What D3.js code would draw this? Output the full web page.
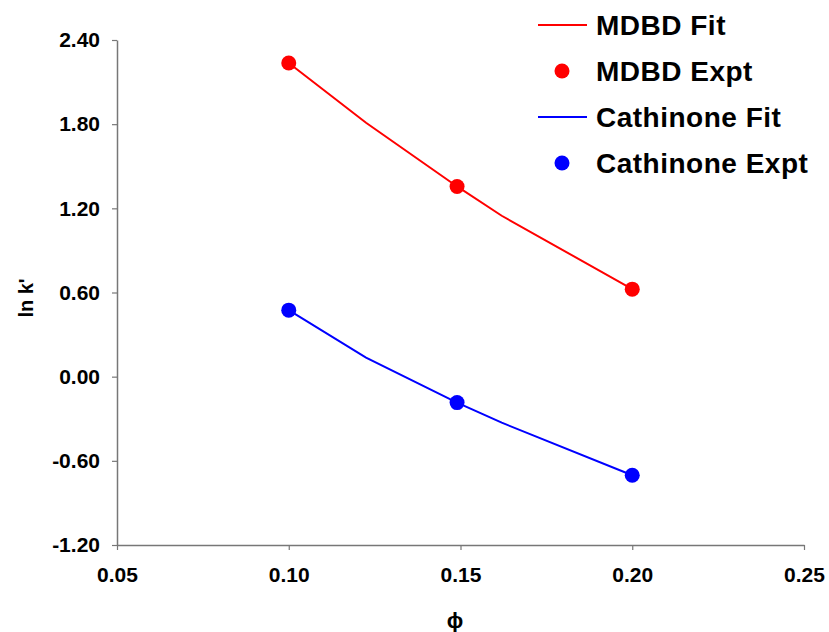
<!DOCTYPE html>
<html>
<head>
<meta charset="utf-8">
<script src="https://cdn.jsdelivr.net/npm/d3@7"></script>
<style>
  html, body { margin: 0; padding: 0; background: #fff; }
  svg { display: block; font-family: "Liberation Sans", Arial, sans-serif; }
</style>
</head>
<body>
<svg id="chart" width="829" height="632"></svg>
<script>
// ---- data ----
const phiExpt = [0.100, 0.149, 0.200];
const mdbdExpt = [2.236, 1.356, 0.624];
const cathExpt = [0.474, -0.185, -0.703];

const phiFit = [0.100, 0.1225, 0.149, 0.162, 0.200];
const mdbdFit = [2.236, 1.81, 1.356, 1.147, 0.624];
const cathFit = [0.474, 0.136, -0.185, -0.328, -0.703];

const xTicks = [0.05, 0.10, 0.15, 0.20, 0.25];
const yTicks = [-1.20, -0.60, 0.00, 0.60, 1.20, 1.80, 2.40];

const legendItems = [
  { label: "MDBD Fit", color: "#ff0000", type: "line" },
  { label: "MDBD Expt", color: "#ff0000", type: "dot" },
  { label: "Cathinone Fit", color: "#0000ff", type: "line" },
  { label: "Cathinone Expt", color: "#0000ff", type: "dot" }
];

// ---- drawing ----
const svg = d3.select("#chart");
const x = d3.scaleLinear().domain([0.05, 0.25]).range([117, 804]);
const y = d3.scaleLinear().domain([-1.2, 2.4]).range([545, 40]);
const fmt = d => d.toFixed(2);
const axisColor = "#777";

const gx = svg.append("g").attr("transform", "translate(0,545)")
  .call(d3.axisBottom(x).tickValues(xTicks).tickFormat(fmt).tickSize(5).tickPadding(17).tickSizeOuter(0));
const gy = svg.append("g").attr("transform", "translate(117,0)")
  .call(d3.axisLeft(y).tickValues(yTicks).tickFormat(fmt).tickSize(5).tickPadding(12).tickSizeOuter(0));

[gx, gy].forEach(g => {
  g.select(".domain").attr("stroke", axisColor).attr("stroke-width", 1.5);
  g.selectAll(".tick line").attr("stroke", axisColor).attr("stroke-width", 1.2);
  g.selectAll(".tick text").attr("fill", "#000").attr("font-size", 21)
    .attr("font-weight", "bold").attr("font-family", "'Liberation Sans', Arial, sans-serif");
});

// axis titles
svg.append("text").attr("x", 455).attr("y", 628)
  .attr("text-anchor", "middle").attr("font-size", 22).attr("font-weight", "bold")
  .text("ϕ");
svg.append("text").attr("transform", "translate(33,298) rotate(-90)")
  .attr("text-anchor", "middle").attr("font-size", 20).attr("font-weight", "bold")
  .text("ln k'");

// fit lines
const line = d3.line().x(d => x(d[0])).y(d => y(d[1]));
const series = [
  { fit: mdbdFit, expt: mdbdExpt, color: "#ff0000" },
  { fit: cathFit, expt: cathExpt, color: "#0000ff" }
];
series.forEach(s => {
  svg.append("path")
    .datum(phiFit.map((p, i) => [p, s.fit[i]]))
    .attr("d", line).attr("fill", "none")
    .attr("stroke", s.color).attr("stroke-width", 2);
});
series.forEach(s => {
  svg.append("g").selectAll("circle")
    .data(phiExpt.map((p, i) => [p, s.expt[i]]))
    .join("circle")
    .attr("cx", d => x(d[0])).attr("cy", d => y(d[1]))
    .attr("r", 7.5).attr("fill", s.color);
});

// legend
const lg = svg.append("g");
legendItems.forEach((it, i) => {
  const cy = 25 + i * 46;
  if (it.type === "line") {
    lg.append("line").attr("x1", 538).attr("x2", 587).attr("y1", cy).attr("y2", cy)
      .attr("stroke", it.color).attr("stroke-width", 2);
  } else {
    lg.append("circle").attr("cx", 562).attr("cy", cy).attr("r", 7.5).attr("fill", it.color);
  }
  lg.append("text").attr("x", 596).attr("y", cy + 10)
    .attr("font-size", 28).attr("font-weight", "bold").attr("fill", "#000")
    .attr("letter-spacing", 0.5)
    .text(it.label);
});
</script>
</body>
</html>
